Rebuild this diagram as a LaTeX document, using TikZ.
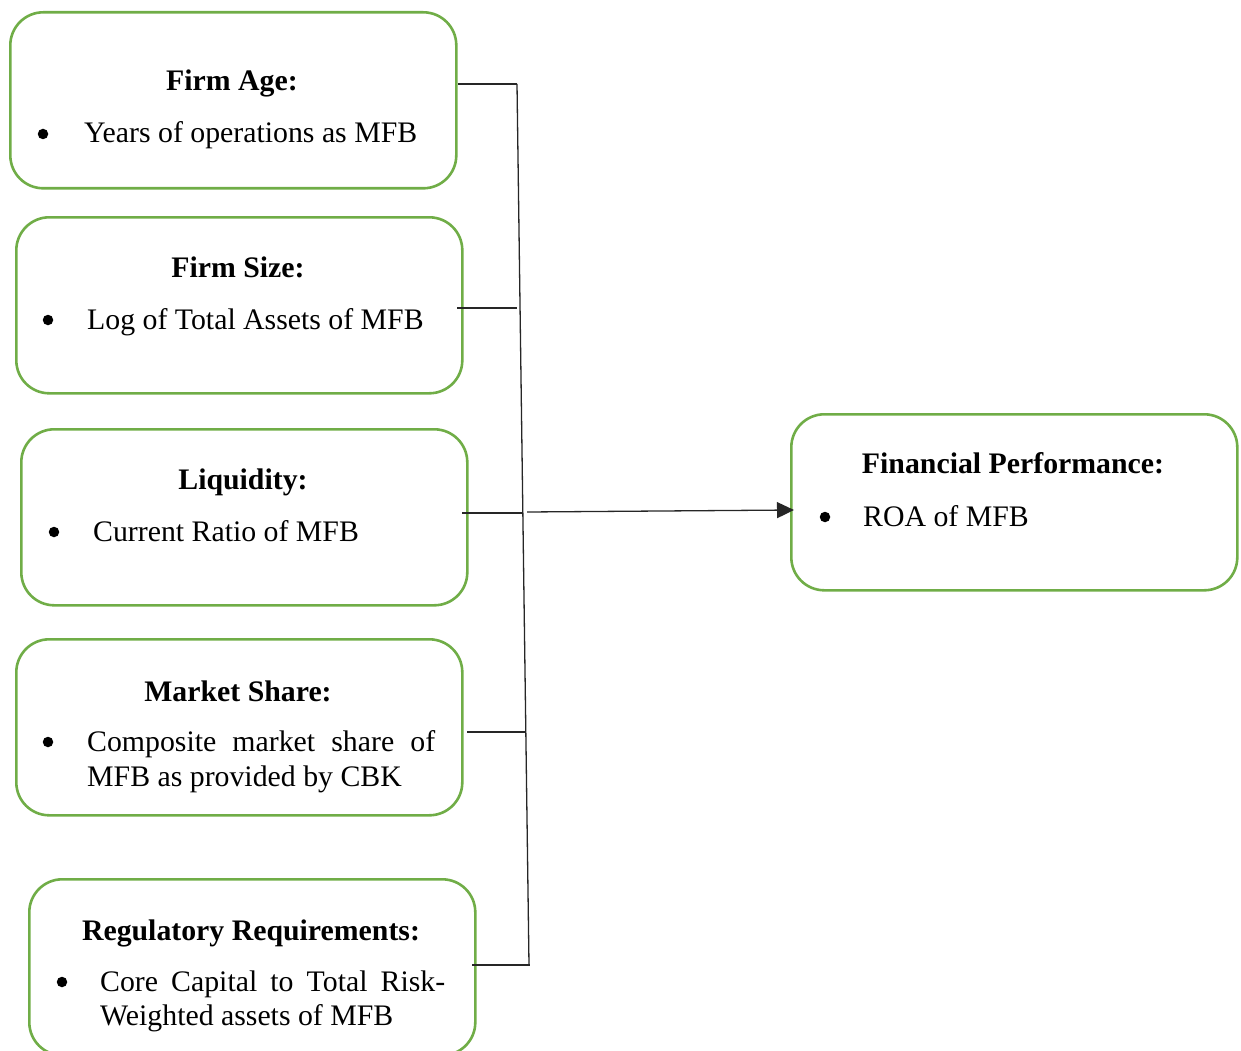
\documentclass[tikz,border=0pt]{standalone}
\usepackage{fontspec}
\setmainfont{Liberation Serif}
\usetikzlibrary{arrows.meta,calc}
\definecolor{boxgreen}{HTML}{70AD47}
\begin{document}
\begin{tikzpicture}[x=1pt,y=-1pt,
  box/.style={draw=boxgreen, line width=2.6pt, rounded corners=33pt, minimum width=446pt, minimum height=176pt, inner sep=0pt, anchor=north west},
  txt/.style={inner sep=0pt, anchor=base west, font=\fontsize{29.8}{34}\selectfont},
  ttl/.style={inner sep=0pt, anchor=base, font=\fontsize{29.8}{34}\selectfont\bfseries},
  bul/.style={circle, fill=black, inner sep=0pt, minimum size=10.5pt},
  conn/.style={line width=1.3pt, draw=black!85},
  arr/.style={conn, -{Triangle[length=17pt,width=16pt]}}]
\useasboundingbox (0,0) rectangle (1241,1051);

% boxes
\node[box] (b1) at (9,11) {};
\node[box] (b2) at (15,216) {};
\node[box] (b3) at (20,428) {};
\node[box] (b4) at (15,638) {};
\node[box] (b5) at (28,878) {};
\node[box] (rb) at (790,413) {};

% titles
\node[ttl] (t1) at (232,91) {Firm Age:};
\node[ttl] (t2) at (238,277) {Firm Size:};
\node[ttl] (t3) at (243,489) {Liquidity:};
\node[ttl] (t4) at (238,701) {Market Share:};
\node[ttl] (t5) at (251,940) {Regulatory Requirements:};
\node[ttl] (tr) at (1013,473) {Financial Performance:};

% bullets
\node[bul] (p1) at (43,134) {};
\node[bul] (p2) at (48,320) {};
\node[bul] (p3) at (54,532) {};
\node[bul] (p4) at (48,742) {};
\node[bul] (p5) at (62,982) {};
\node[bul] (pr) at (825,517) {};

% bullet texts
\node[txt] (l1) at (84,143) {Years of operations as MFB};
\node[txt] (l2) at (87,329) {Log of Total Assets of MFB};
\node[txt] (l3) at (93,541) {Current Ratio of MFB};
\node[txt] (l4a) at (87,751) {\makebox[348pt][s]{Composite market share of}};
\node[txt] (l4b) at (87,786) {MFB as provided by CBK};
\node[txt] (l5a) at (100,991) {\makebox[345pt][s]{Core Capital to Total Risk-}};
\node[txt] (l5b) at (100,1025) {Weighted assets of MFB};
\node[txt] (lr) at (863,526) {ROA of MFB};

% connector coordinates
\coordinate (s1) at (458,84);
\coordinate (j1) at (517,84);
\coordinate (s2) at (457,308);
\coordinate (e2) at (517,308);
\coordinate (s3) at (462,513);
\coordinate (e3) at (522,513);
\coordinate (s4) at (467,732);
\coordinate (e4) at (526,732);
\coordinate (s5) at (472,965);
\coordinate (e5) at (530,965);
\coordinate (j5) at (529,965);
\coordinate (a0) at (527,512);
\coordinate (a1) at (794,510);

\draw[conn] (s1) -- (j1);
\draw[conn] (j1) -- (j5);
\draw[conn] (s2) -- (e2);
\draw[conn] (s3) -- (e3);
\draw[conn] (s4) -- (e4);
\draw[conn] (s5) -- (e5);
\draw[arr] (a0) -- (a1);
\end{tikzpicture}
\end{document}
